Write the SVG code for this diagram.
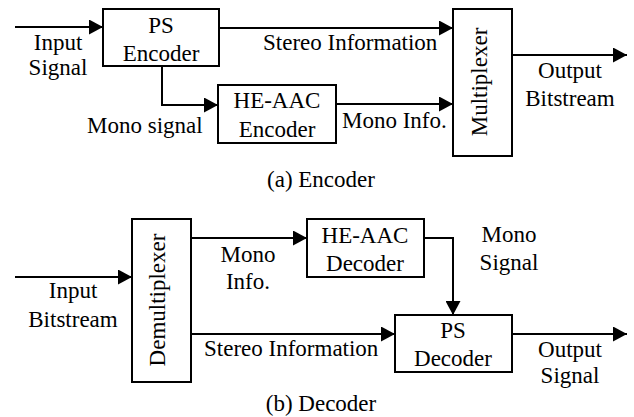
<svg xmlns="http://www.w3.org/2000/svg" width="634" height="417" viewBox="0 0 634 417">
  <defs>
    <marker id="arrow" viewBox="0 0 14 15" refX="14" refY="7.5" markerWidth="14" markerHeight="15" markerUnits="userSpaceOnUse" orient="auto">
      <path d="M0,0 L14,7.5 L0,15 Z" fill="#000"/>
    </marker>
    <style>
      .box { fill: #fff; stroke: #000; stroke-width: 2; }
      .wire { fill: none; stroke: #000; stroke-width: 2; marker-end: url(#arrow); }
    </style>
  </defs>
  <rect width="634" height="417" fill="#fff"/>

  <!-- connectors -->
  <g id="connectors">
    <!-- encoder -->
    <path class="wire" d="M15,27 H103"/>
    <path class="wire" d="M219,28 H453"/>
    <path class="wire" d="M162,66 V105 H218"/>
    <path class="wire" d="M336,104 H453"/>
    <path class="wire" d="M512,55 H627"/>
    <!-- decoder -->
    <path class="wire" d="M15,277 H132"/>
    <path class="wire" d="M191,238 H307"/>
    <path class="wire" d="M191,334 H395"/>
    <path class="wire" d="M424,238 H453 V315"/>
    <path class="wire" d="M512,334 H627"/>
  </g>

  <!-- encoder nodes -->
  <g id="ps-encoder">
    <rect class="box" x="103" y="9" width="116" height="57"/>
    <text font-family="'Liberation Serif'" font-size="23" text-anchor="middle" x="161" y="33">PS</text>
    <text font-family="'Liberation Serif'" font-size="23" text-anchor="middle" x="161" y="61">Encoder</text>
  </g>
  <g id="heaac-encoder">
    <rect class="box" x="218" y="85" width="118" height="58"/>
    <text font-family="'Liberation Serif'" font-size="23" text-anchor="middle" x="277" y="108">HE-AAC</text>
    <text font-family="'Liberation Serif'" font-size="23" text-anchor="middle" x="277" y="137">Encoder</text>
  </g>
  <g id="multiplexer">
    <rect class="box" x="453" y="9" width="59" height="147"/>
    <text font-family="'Liberation Serif'" font-size="23" text-anchor="middle" transform="translate(487,82) rotate(-90)">Multiplexer</text>
  </g>

  <!-- encoder labels -->
  <g id="encoder-labels">
    <text font-family="'Liberation Serif'" font-size="23" text-anchor="middle" x="58" y="50">Input</text>
    <text font-family="'Liberation Serif'" font-size="23" text-anchor="middle" x="58" y="75">Signal</text>
    <text font-family="'Liberation Serif'" font-size="23" x="263" y="50">Stereo Information</text>
    <text font-family="'Liberation Serif'" font-size="23" x="87" y="133">Mono signal</text>
    <text font-family="'Liberation Serif'" font-size="23" x="342" y="128">Mono Info.</text>
    <text font-family="'Liberation Serif'" font-size="23" text-anchor="middle" x="570" y="78">Output</text>
    <text font-family="'Liberation Serif'" font-size="23" text-anchor="middle" x="570" y="106">Bitstream</text>
    <text font-family="'Liberation Serif'" font-size="23" text-anchor="middle" x="321" y="187">(a) Encoder</text>
  </g>

  <!-- decoder nodes -->
  <g id="demultiplexer">
    <rect class="box" x="132" y="219" width="59" height="163"/>
    <text font-family="'Liberation Serif'" font-size="23" text-anchor="middle" transform="translate(165,300) rotate(-90)">Demultiplexer</text>
  </g>
  <g id="heaac-decoder">
    <rect class="box" x="307" y="219" width="117" height="58"/>
    <text font-family="'Liberation Serif'" font-size="23" text-anchor="middle" x="365" y="243">HE-AAC</text>
    <text font-family="'Liberation Serif'" font-size="23" text-anchor="middle" x="365" y="271">Decoder</text>
  </g>
  <g id="ps-decoder">
    <rect class="box" x="395" y="315" width="117" height="57"/>
    <text font-family="'Liberation Serif'" font-size="23" text-anchor="middle" x="453" y="338">PS</text>
    <text font-family="'Liberation Serif'" font-size="23" text-anchor="middle" x="453" y="366">Decoder</text>
  </g>

  <!-- decoder labels -->
  <g id="decoder-labels">
    <text font-family="'Liberation Serif'" font-size="23" text-anchor="middle" x="73" y="298">Input</text>
    <text font-family="'Liberation Serif'" font-size="23" text-anchor="middle" x="73" y="327">Bitstream</text>
    <text font-family="'Liberation Serif'" font-size="23" text-anchor="middle" x="248" y="262">Mono</text>
    <text font-family="'Liberation Serif'" font-size="23" text-anchor="middle" x="248" y="289">Info.</text>
    <text font-family="'Liberation Serif'" font-size="23" text-anchor="middle" x="509" y="242">Mono</text>
    <text font-family="'Liberation Serif'" font-size="23" text-anchor="middle" x="509" y="270">Signal</text>
    <text font-family="'Liberation Serif'" font-size="23" x="204" y="356">Stereo Information</text>
    <text font-family="'Liberation Serif'" font-size="23" text-anchor="middle" x="570" y="357">Output</text>
    <text font-family="'Liberation Serif'" font-size="23" text-anchor="middle" x="570" y="383">Signal</text>
    <text font-family="'Liberation Serif'" font-size="23" text-anchor="middle" x="321" y="411">(b) Decoder</text>
  </g>
</svg>
